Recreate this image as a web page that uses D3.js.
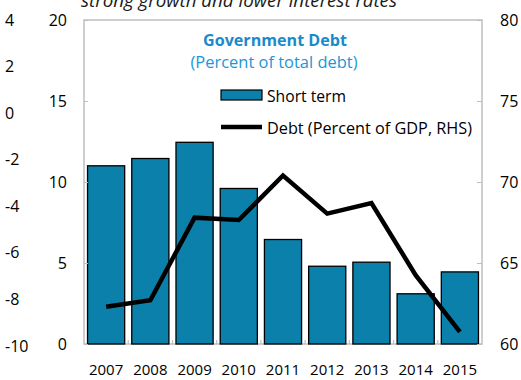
<!DOCTYPE html>
<html><head><meta charset="utf-8">
<script src="https://cdn.jsdelivr.net/npm/d3@7"></script>
<style>body{margin:0;background:#fff}svg{display:block}text{font-family:"Open Sans",sans-serif}</style>
</head><body><svg id="c" width="521" height="380"></svg>
<script>
const years = ["2007","2008","2009","2010","2011","2012","2013","2014","2015"];
const shortTerm = [11.0, 11.45, 12.45, 9.6, 6.45, 4.8, 5.05, 3.1, 4.45];
const debtGDP = [62.3, 62.7, 67.8, 67.65, 70.4, 68.05, 68.7, 64.25, 60.75];
const leftTicks = [0, 5, 10, 15, 20];
const rightTicks = [60, 65, 70, 75, 80];
const strayTicks = [4, 2, 0, -2, -4, -6, -8, -10];

const svg = d3.select("#c");
const L = 84, R = 482, T = 20, B = 344;
const x = d3.scaleBand().domain(years).range([L, R]).paddingInner(0.16).paddingOuter(0.08);
const xc = d3.scaleBand().domain(years).range([L, R]);
const yL = d3.scaleLinear().domain([0, 20]).range([B, T]);
const yR = d3.scaleLinear().domain([60, 80]).range([B, T]);
const yS = d3.scaleLinear().domain([-10, 4]).range([346, 20]);
const grey = "#bfbfbf";
const fmt = d => String(d);

// italic cut-off header
svg.append("text").attr("x", 239).attr("y", 7).attr("text-anchor", "middle")
  .attr("font-size", 17.5).attr("font-style", "italic").attr("fill", "#1a1a1a")
  .attr("textLength", 316).attr("lengthAdjust", "spacingAndGlyphs")
  .text("strong growth and lower interest rates");

// frame
svg.append("rect").attr("x", L).attr("y", T).attr("width", R - L).attr("height", B - T)
  .attr("fill", "none").attr("stroke", grey).attr("stroke-width", 1.5);

// bars
svg.selectAll("rect.bar").data(years).join("rect").attr("class", "bar")
  .attr("x", d => x(d)).attr("width", x.bandwidth())
  .attr("y", (d, i) => yL(shortTerm[i])).attr("height", (d, i) => B - yL(shortTerm[i]))
  .attr("fill", "#0a80aa").attr("stroke", "#000").attr("stroke-width", 1.3);

// line
svg.append("path").datum(debtGDP)
  .attr("d", d3.line().x((d, i) => xc(years[i]) + xc.bandwidth() / 2).y(d => yR(d)))
  .attr("fill", "none").attr("stroke", "#000").attr("stroke-width", 4.5).attr("stroke-linejoin", "miter");

// left axis
const gl = svg.append("g").attr("transform", `translate(${L},0)`)
  .call(d3.axisLeft(yL).tickValues(leftTicks).tickFormat(fmt).tickSize(-4).tickPadding(17));
gl.select(".domain").remove();
gl.selectAll("line").attr("stroke", grey);
gl.selectAll("text").attr("font-size", 16).attr("fill", "#000").attr("font-family", "Open Sans");

// right axis
const gr = svg.append("g").attr("transform", `translate(${R},0)`)
  .call(d3.axisRight(yR).tickValues(rightTicks).tickFormat(fmt).tickSize(-5).tickPadding(18));
gr.select(".domain").remove();
gr.selectAll("line").attr("stroke", grey);
gr.selectAll("text").attr("font-size", 16).attr("fill", "#000").attr("font-family", "Open Sans");

// bottom axis
const gb = svg.append("g").attr("transform", `translate(0,${B})`)
  .call(d3.axisBottom(xc).tickSize(0).tickPadding(20));
gb.select(".domain").remove();
gb.selectAll("text").attr("font-size", 15).attr("fill", "#000").attr("font-family", "Open Sans");
svg.selectAll("line.xt").data(years.slice(1)).join("line").attr("class", "xt")
  .attr("x1", d => xc(d)).attr("x2", d => xc(d)).attr("y1", B).attr("y2", B - 4)
  .attr("stroke", grey).attr("stroke-width", 1.2);

// stray left-edge axis labels
const gs = svg.append("g").attr("transform", "translate(5,0)")
  .call(d3.axisRight(yS).tickValues(strayTicks).tickFormat(fmt).tickSize(0).tickPadding(0));
gs.select(".domain").remove();
gs.selectAll("text").attr("font-size", 16).attr("fill", "#000").attr("font-family", "Open Sans");

// title
svg.append("text").attr("x", 275).attr("y", 46).attr("text-anchor", "middle")
  .attr("font-size", 16.5).attr("font-weight", "bold").attr("fill", "#1a8acb")
  .attr("textLength", 144).attr("lengthAdjust", "spacingAndGlyphs").text("Government Debt");
svg.append("text").attr("x", 274).attr("y", 68).attr("text-anchor", "middle")
  .attr("font-size", 16.5).attr("fill", "#2196d6")
  .attr("textLength", 167).attr("lengthAdjust", "spacingAndGlyphs").text("(Percent of total debt)");

// legend
svg.append("rect").attr("x", 221).attr("y", 90).attr("width", 41).attr("height", 10)
  .attr("fill", "#0a80aa").attr("stroke", "#000").attr("stroke-width", 1.2);
svg.append("text").attr("x", 267).attr("y", 102).attr("font-size", 16).attr("fill", "#000")
  .attr("textLength", 79).attr("lengthAdjust", "spacingAndGlyphs").text("Short term");
svg.append("line").attr("x1", 221).attr("x2", 262).attr("y1", 127).attr("y2", 127)
  .attr("stroke", "#000").attr("stroke-width", 4.5);
svg.append("text").attr("x", 267).attr("y", 134).attr("font-size", 16).attr("fill", "#000")
  .attr("textLength", 205).attr("lengthAdjust", "spacingAndGlyphs").text("Debt (Percent of GDP, RHS)");
</script></body></html>
